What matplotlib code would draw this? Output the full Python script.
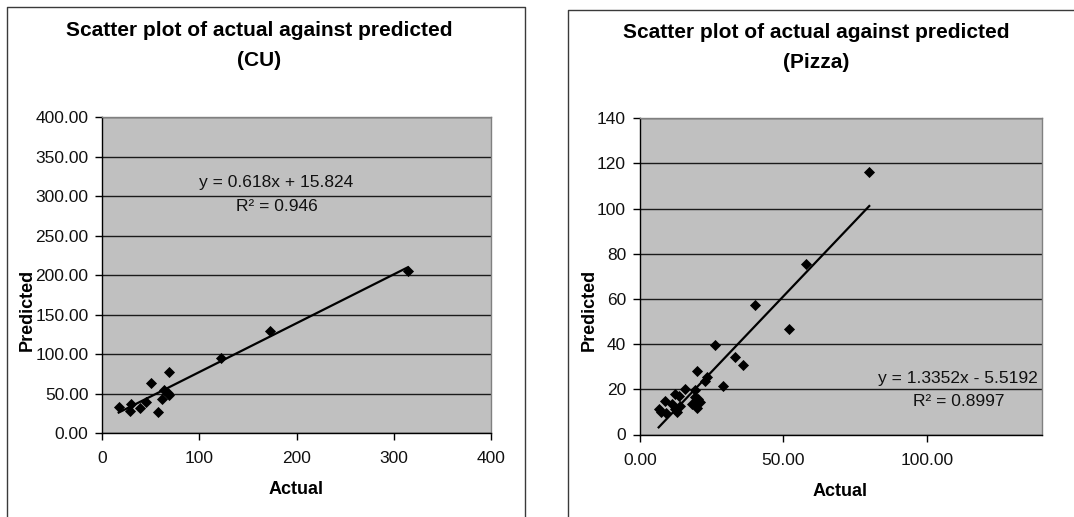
import matplotlib
matplotlib.use("Agg")
import matplotlib.pyplot as plt
from matplotlib.lines import Line2D
from matplotlib.ticker import FormatStrFormatter, MultipleLocator

plt.rcParams["font.family"] = ["Liberation Sans", "DejaVu Sans"]

# ---- CU data ----
cu_actual = [16.9, 28.6, 29.3, 39.2, 45.3, 49.9, 57.0, 61.2, 64.0, 68.3,
             67.6, 69.0, 122.1, 172.8, 314.5]
cu_predicted = [33.8, 28.7, 37.1, 32.1, 40.1, 64.1, 26.6, 43.0, 54.9, 77.2,
                50.6, 48.5, 95.8, 130.0, 205.9]
cu_slope, cu_intercept, cu_r2 = 0.618, 15.824, 0.946

# ---- Pizza data ----
pz_actual = [79.9, 57.9, 40.0, 51.9, 26.2, 33.1, 35.8, 28.9, 20.0, 23.2,
             22.7, 15.8, 8.8, 12.2, 13.6, 19.1, 19.1, 20.3, 20.8, 18.2,
             20.0, 6.5, 7.4, 9.2, 12.2, 12.8, 14.0, 11.2]
pz_predicted = [116.4, 75.6, 57.5, 46.7, 39.8, 34.3, 30.7, 21.4, 28.0, 25.3,
                23.6, 20.2, 15.0, 18.0, 17.2, 19.9, 16.5, 15.5, 14.3, 13.3,
                11.8, 11.3, 10.0, 9.6, 11.1, 9.9, 12.5, 13.3]
pz_slope, pz_intercept, pz_r2 = 1.3352, -5.5192, 0.8997

W, H = 1074, 517
fig = plt.figure(figsize=(W / 100, H / 100), dpi=100)
fig.patch.set_facecolor("white")


def fx(x):
    return x / W


def fy(y):
    return 1 - y / H


def add_axes(x0, y0, x1, y1):
    return fig.add_axes([fx(x0), fy(y1), fx(x1) - fx(x0), fy(y0) - fy(y1)])


def style(ax):
    ax.set_facecolor("#C0C0C0")
    ax.grid(axis="y", color="#1a1a1a", linewidth=1.0)
    ax.set_axisbelow(True)
    for s in ("top", "right"):
        ax.spines[s].set_color("#808080")
        ax.spines[s].set_linewidth(1.0)
    for s in ("left", "bottom"):
        ax.spines[s].set_color("#000000")
        ax.spines[s].set_linewidth(1.0)
    ax.tick_params(direction="out", length=5, width=1, color="black",
                   labelsize=12.5, labelcolor="#111111", pad=5)
    ax.tick_params(axis="x", pad=8)


def chart(ax, actual, predicted, slope, intercept, xlim, ylim, xstep, ystep,
          xfmt, yfmt):
    style(ax)
    ax.scatter(actual, predicted, marker="D", s=32, color="black", zorder=3,
               linewidths=0)
    xs = [min(actual), max(actual)]
    ax.plot(xs, [slope * v + intercept for v in xs], color="black",
            linewidth=1.6, zorder=4)
    ax.set_xlim(*xlim)
    ax.set_ylim(*ylim)
    ax.xaxis.set_major_locator(MultipleLocator(xstep))
    ax.yaxis.set_major_locator(MultipleLocator(ystep))
    ax.xaxis.set_major_formatter(FormatStrFormatter(xfmt))
    ax.yaxis.set_major_formatter(FormatStrFormatter(yfmt))


# CU chart
ax1 = add_axes(102.3, 117.3, 491, 433.3)
chart(ax1, cu_actual, cu_predicted, cu_slope, cu_intercept,
      (0, 400), (0, 400), 100, 50, "%d", "%.2f")

# Pizza chart
ax2 = add_axes(640, 118.3, 1041.7, 434.5)
chart(ax2, pz_actual, pz_predicted, pz_slope, pz_intercept,
      (0, 140), (0, 140), 50, 20, "%.2f", "%d")

# chart frames
frame = dict(color="#3a3a3a", linewidth=1.0, transform=fig.transFigure)
fig.add_artist(Line2D([fx(7), fx(7), fx(525), fx(525)],
                      [fy(517), fy(7), fy(7), fy(517)], **frame))
fig.add_artist(Line2D([fx(567.7), fx(567.7), fx(1074)],
                      [fy(517), fy(10), fy(10)], **frame))

# titles
tkw = dict(ha="center", va="center", fontsize=15, fontweight="bold")
fig.text(fx(259), fy(30), "Scatter plot of actual against predicted", **tkw)
fig.text(fx(259), fy(60), "(CU)", **tkw)
fig.text(fx(816), fy(32), "Scatter plot of actual against predicted", **tkw)
fig.text(fx(816), fy(62), "(Pizza)", **tkw)

# axis titles
lkw = dict(ha="center", va="center", fontsize=13, fontweight="bold")
fig.text(fx(296), fy(490), "Actual", **lkw)
fig.text(fx(840), fy(491), "Actual", **lkw)
fig.text(fx(27.5), fy(310), "Predicted", rotation=90, **lkw)
fig.text(fx(589), fy(310), "Predicted", rotation=90, **lkw)

# trendline equations
ekw = dict(va="center", fontsize=12.5, color="#111111")
fig.text(fx(276), fy(183),
         f"y = {cu_slope:.3f}x + {cu_intercept:.3f}", ha="center", **ekw)
fig.text(fx(277), fy(207), f"R² = {cu_r2:.3f}", ha="center", **ekw)
fig.text(fx(1038), fy(378),
         f"y = {pz_slope:.4f}x - {abs(pz_intercept):.4f}", ha="right", **ekw)
fig.text(fx(959), fy(402), f"R² = {pz_r2:.4f}", ha="center", **ekw)

fig.savefig("out.png", dpi=100)
